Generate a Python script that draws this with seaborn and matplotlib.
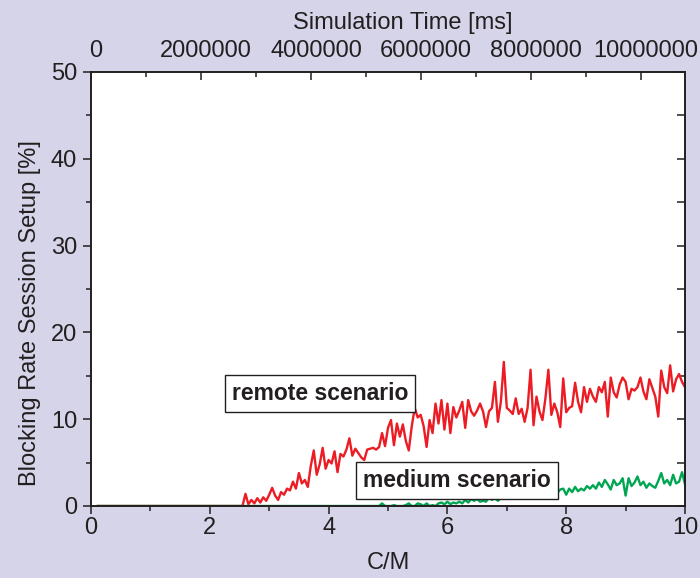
import numpy as np
import pandas as pd
import matplotlib
matplotlib.use("Agg")
import matplotlib.pyplot as plt
import matplotlib.transforms as mtransforms
from matplotlib.ticker import MultipleLocator
import seaborn as sns

# ---------------- data ----------------
x_label = "C/M"
y_label = "Blocking Rate Session Setup [%]"
top_label = "Simulation Time [ms]"
top_tick_values = [0, 2000000, 4000000, 6000000, 8000000, 10000000]
top_tick_labels = ["0", "2000000", "4000000", "6000000", "8000000", "10000000"]
ms_per_cm = 1.08e6  # top axis scale (ms per unit of C/M)

remote_start = 2.60
remote_vals = [
    1.4, 0.2, 0.7, 0.3, 0.9, 0.4, 1.0, 0.6,
    1.3, 2.1, 1.2, 0.7, 1.6, 1.3, 2.0, 1.8, 2.8, 2.0,
    3.8, 2.6, 3.0, 2.2, 4.6, 6.4, 3.6, 4.8, 6.7, 4.3,
    5.3, 4.9, 6.3, 3.9, 6.0, 5.7, 6.5, 7.8, 5.8, 6.6,
    6.1, 5.6, 5.3, 6.5, 6.6, 6.7, 6.5, 6.8, 8.4, 6.9,
    9.0, 9.9, 7.0, 9.5, 8.0, 9.4, 7.5, 6.4, 9.2, 11.3,
    10.2, 10.5, 9.2, 6.8, 9.9, 8.4, 11.8, 9.5, 12.2, 8.8,
    11.8, 8.4, 11.4, 10.2, 11.0, 12.0, 9.0, 12.2, 10.9, 10.4,
    11.0, 11.8, 10.9, 9.1, 10.9, 11.3, 14.3, 9.7, 12.0, 16.6,
    11.3, 11.0, 10.6, 12.4, 10.6, 11.2, 9.7, 11.3, 15.7, 9.3,
    12.6, 10.9, 9.9, 12.4, 15.7, 10.5, 11.8, 10.8, 9.1, 14.7,
    10.8, 11.3, 11.5, 14.2, 12.0, 10.8, 13.7, 12.0, 13.5, 12.6,
    12.0, 13.7, 13.1, 14.3, 10.3, 14.8, 13.1, 12.5, 14.0, 14.8,
    14.3, 12.3, 13.5, 13.3, 13.7, 14.8, 13.2, 12.3, 14.6, 13.6,
    12.6, 10.3, 15.6, 13.7, 13.0, 16.2, 13.2, 14.6, 15.2, 14.3,
    13.7,
]

medium_start = 4.90
medium_vals = [
    0.3, 0.0, 0.0, 0.0, 0.1, 0.0, 0.0, 0.0, 0.1, 0.3,
    0.0, 0.0, 0.3, 0.2, 0.0, 0.3, 0.0, 0.1, 0.0, 0.3,
    0.4, 0.2, 0.5, 0.2, 0.4, 0.3, 0.5, 0.3, 0.7, 0.4,
    0.8, 0.6, 0.8, 0.5, 0.6, 0.5, 1.0, 0.7, 0.9, 0.6,
    0.9, 1.1, 0.8, 1.5, 1.1, 1.3, 0.9, 1.4, 1.2, 1.0,
    1.5, 1.1, 1.2, 1.0, 1.3, 1.0, 1.3, 1.6, 1.8, 1.5,
    1.9, 2.0, 1.3, 2.0, 1.6, 2.2, 1.7, 2.0, 1.8, 2.3,
    2.0, 2.4, 2.0, 2.7, 2.2, 3.0, 2.5, 1.9, 3.0, 2.4,
    2.6, 3.2, 1.2, 3.2, 2.3, 2.7, 3.4, 2.4, 2.8, 2.1,
    2.6, 2.3, 2.1, 2.9, 3.8, 2.6, 3.0, 2.4, 3.6, 2.6,
    2.8, 3.9, 2.5,
]

series_names = ["remote scenario", "medium scenario"]
series_colors = ["#ec1c24", "#00a651"]

# ---------------- build long-form table ----------------
def build(name, start, vals):
    xs = [0.1, round(start - 0.05, 2)] + [round(start + 0.05 * i, 2) for i in range(len(vals))]
    ys = [0.0, 0.0] + list(vals)
    return pd.DataFrame({"x": xs, "y": ys, "scenario": name})

df = pd.concat([
    build(series_names[0], remote_start, remote_vals),
    build(series_names[1], medium_start, medium_vals),
], ignore_index=True)

# ---------------- styling ----------------
sns.set_style("ticks")
plt.rcParams["font.family"] = ["Liberation Sans", "DejaVu Sans"]
bg = "#d5d4e9"
ink = "#231f20"

fig = plt.figure(figsize=(7.0, 5.78), dpi=100, facecolor=bg)
ax = fig.add_axes([91 / 700, 72 / 578, 594 / 700, 434 / 578])
ax.set_facecolor("white")

sns.lineplot(data=df, x="x", y="y", hue="scenario",
             palette=dict(zip(series_names, series_colors)),
             estimator=None, sort=False, legend=False, lw=1.7, ax=ax)

ax.set_xlim(0, 10)
ax.set_ylim(0, 50)
ax.xaxis.set_major_locator(MultipleLocator(2))
ax.xaxis.set_minor_locator(MultipleLocator(1))
ax.yaxis.set_major_locator(MultipleLocator(10))
ax.yaxis.set_minor_locator(MultipleLocator(5))

for sp in ax.spines.values():
    sp.set_color(ink)
    sp.set_linewidth(1.2)
    sp.set_visible(True)

ax.tick_params(axis="x", which="major", direction="out", length=6, width=1.1,
               color=ink, labelsize=17, labelcolor=ink, pad=2)
ax.tick_params(axis="x", which="minor", direction="out", length=3.5, width=1.1, color=ink)
ax.tick_params(axis="y", which="major", direction="out", length=6, width=1.1,
               color=ink, labelsize=17, labelcolor=ink, pad=4)
ax.tick_params(axis="y", which="minor", direction="out", length=3.5, width=1.1, color=ink)
ax.tick_params(axis="y", which="both", right=True, labelright=False)

ax.set_xlabel(x_label, fontsize=17, color=ink)
ax.set_ylabel(y_label, fontsize=17, color=ink)
ax.xaxis.set_label_coords(0.5, -0.105)
ax.yaxis.set_label_coords(-0.085, 0.445)

# right side ticks drawn inward
for t in ax.yaxis.get_major_ticks() + ax.yaxis.get_minor_ticks():
    t.tick2line.set_marker(matplotlib.lines.TICKLEFT)
    t.tick2line.set_markersize(6)

# top axis: simulation time
ax2 = ax.twiny()
ax2.set_xlim(0, 10 * ms_per_cm)
ax2.set_xticks(top_tick_values)
ax2.set_xticklabels(top_tick_labels)
ax2.xaxis.set_minor_locator(MultipleLocator(1000000))
ax2.tick_params(axis="x", which="major", direction="in", length=6, width=1.1,
                color=ink, labelsize=17, labelcolor=ink, pad=7)
ax2.tick_params(axis="x", which="minor", direction="in", length=3.5, width=1.1, color=ink)
ax2.set_xlabel(top_label, fontsize=17, color=ink)
ax2.xaxis.set_label_coords(0.524, 1.1)
for sp in ax2.spines.values():
    sp.set_color(ink)
    sp.set_linewidth(1.2)
shift = mtransforms.ScaledTranslation(5 / 100, 0, fig.dpi_scale_trans)
for lab in ax2.get_xticklabels():
    lab.set_transform(lab.get_transform() + shift)

# scenario labels
box = dict(boxstyle="square,pad=0.3", fc="white", ec=ink, lw=1.0)
ax.text(3.86, 13.0, series_names[0], fontsize=16.5, fontweight="bold", color=ink,
        ha="center", va="center", bbox=box, zorder=5)
ax.text(6.16, 2.9, series_names[1], fontsize=16.5, fontweight="bold", color=ink,
        ha="center", va="center", bbox=box, zorder=5)

fig.savefig("out.png", dpi=100, facecolor=bg)
